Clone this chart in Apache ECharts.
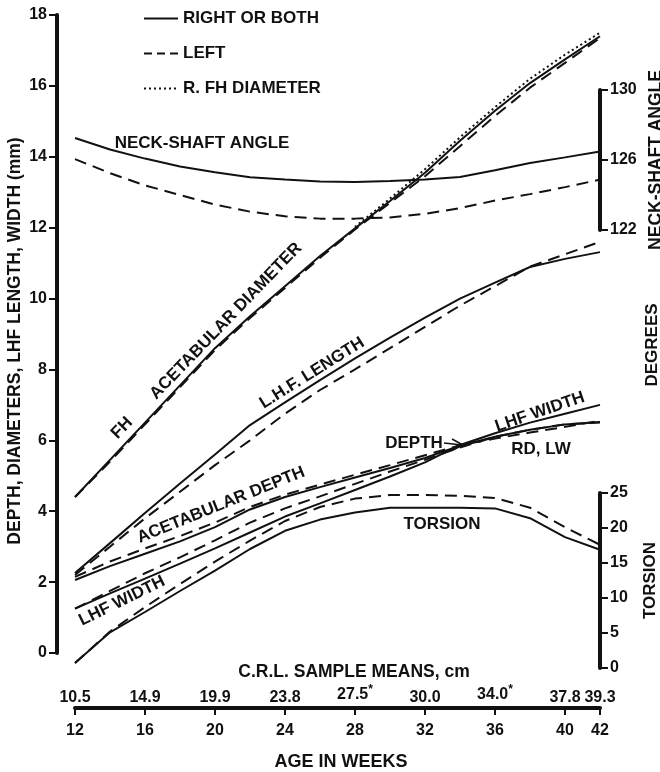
<!DOCTYPE html>
<html>
<head>
<meta charset="utf-8">
<script src="https://cdn.jsdelivr.net/npm/echarts@6/dist/echarts.min.js"></script>
<style>
  html, body { margin: 0; padding: 0; background: #fff; }
  #chart { width: 660px; height: 772px; }
</style>
</head>
<body>
<div id="chart"></div>
<script>
// Age in weeks at which every curve was read
var weeks = [12, 14, 16, 18, 20, 22, 24, 26, 28, 30, 32, 34, 36, 38, 40, 42];

// mm scale (left axis)
var fhAcetabRight = [4.4, 5.45, 6.5, 7.55, 8.6, 9.5, 10.35, 11.2, 11.98, 12.75, 13.55, 14.45, 15.3, 16.08, 16.75, 17.4];
var fhAcetabLeft = [4.4, 5.4, 6.45, 7.5, 8.55, 9.45, 10.3, 11.15, 11.95, 12.7, 13.45, 14.3, 15.15, 15.95, 16.65, 17.35];
var fhDiameterRight = [null, null, null, null, null, null, null, null, 12.02, 12.82, 13.65, 14.55, 15.4, 16.2, 16.88, 17.5];
var lhfLengthRight = [2.26, 3.1, 3.95, 4.78, 5.6, 6.43, 7.07, 7.7, 8.31, 8.9, 9.46, 10.0, 10.45, 10.89, 11.12, 11.31];
var lhfLengthLeft = [2.2, 3.0, 3.8, 4.55, 5.3, 6.0, 6.75, 7.42, 8.0, 8.6, 9.2, 9.8, 10.35, 10.9, 11.25, 11.6];
var acetabDepthRight = [2.06, 2.45, 2.8, 3.15, 3.55, 4.05, 4.4, 4.68, 4.95, 5.22, 5.5, 5.85, 6.1, 6.3, 6.45, 6.52];
var acetabDepthLeft = [2.15, 2.58, 2.95, 3.3, 3.68, 4.12, 4.47, 4.75, 5.03, 5.3, 5.58, 5.86, 6.05, 6.22, 6.38, 6.55];
var lhfWidthRight = [1.25, 1.68, 2.1, 2.52, 2.95, 3.4, 3.85, 4.22, 4.6, 4.98, 5.38, 5.87, 6.2, 6.5, 6.75, 7.0];
var lhfWidthLeft = [1.25, 1.75, 2.25, 2.7, 3.18, 3.68, 4.08, 4.42, 4.77, 5.12, 5.45, 5.8, 6.1, 6.3, 6.45, 6.5];

// degrees, neck-shaft angle scale
var neckRight = [127.26, 126.6, 126.08, 125.63, 125.3, 125.02, 124.88, 124.77, 124.74, 124.8, 124.88, 125.03, 125.42, 125.83, 126.15, 126.48];
var neckLeft = [126.05, 125.25, 124.55, 124.0, 123.45, 123.05, 122.78, 122.65, 122.65, 122.72, 122.92, 123.25, 123.68, 124.05, 124.45, 124.88];

// degrees, torsion scale
var torsionRight = [0.7, 5.1, 8.0, 11.0, 13.9, 17.0, 19.6, 21.2, 22.2, 22.9, 22.9, 22.9, 22.8, 21.4, 18.7, 16.9];
var torsionLeft = [0.7, 5.2, 8.7, 12.0, 15.2, 18.2, 21.0, 23.0, 24.2, 24.7, 24.7, 24.6, 24.3, 22.9, 20.1, 17.6];

// axis ticks
var weekTicks = [12, 16, 20, 24, 28, 32, 36, 40, 42];
var crlLabels = ['10.5', '14.9', '19.9', '23.8', '27.5*', '30.0', '34.0*', '37.8', '39.3'];

var INK = '#111';
var FONT = '"Liberation Sans", Arial, sans-serif';
var DASH = [12, 7];
var DOT = [2, 3];

function pairs(values) {
    return weeks.map(function (w, i) { return [w, values[i]]; });
}

function curve(name, values, grid, type) {
    return {
        type: 'line',
        name: name,
        xAxisIndex: grid,
        yAxisIndex: grid,
        data: pairs(values),
        symbol: 'none',
        showSymbol: false,
        clip: false,
        silent: true,
        lineStyle: { color: INK, width: 2, type: type },
        itemStyle: { color: INK }
    };
}

var SOLID_NAME = 'RIGHT OR BOTH';
var DASH_NAME = 'LEFT';
var DOT_NAME = 'R. FH DIAMETER';

function hiddenX(grid) {
    return { type: 'value', gridIndex: grid, min: 12, max: 42, show: false };
}

function sideAxis(grid, min, max, interval, name, size) {
    return {
        type: 'value', gridIndex: grid, min: min, max: max, interval: interval, position: 'right',
        name: name,
        nameLocation: 'middle', nameRotate: 90, nameGap: 42,
        nameTextStyle: { fontSize: size, fontWeight: 'bold', color: INK, fontFamily: FONT },
        axisLine: { show: true, onZero: false, lineStyle: { color: INK, width: 4 } },
        axisTick: { show: true, length: 8, lineStyle: { color: INK, width: 2 } },
        axisLabel: { margin: 10, color: INK, fontSize: 16, fontWeight: 'bold', fontFamily: FONT },
        splitLine: { show: false }
    };
}

function label(text, x, y, deg, size) {
    return {
        type: 'text',
        x: x,
        y: y,
        rotation: (deg || 0) * Math.PI / 180,
        silent: true,
        style: {
            text: text,
            fill: INK,
            font: 'bold ' + (size || 17) + 'px ' + FONT,
            textAlign: 'center',
            textVerticalAlign: 'middle'
        }
    };
}

function plotGrid(top, height) {
    return { left: 75, right: 60, top: top, height: height, containLabel: false, outerBoundsMode: 'none' };
}

var chart = echarts.init(document.getElementById('chart'));

chart.setOption({
    animation: false,
    backgroundColor: '#fff',
    textStyle: { fontFamily: FONT, color: INK },
    legend: {
        orient: 'vertical',
        left: 143,
        top: 10,
        padding: 0,
        itemWidth: 34,
        itemHeight: 14,
        itemGap: 18,
        selectedMode: false,
        itemStyle: { opacity: 0 },
        textStyle: { fontSize: 17, lineHeight: 14, fontWeight: 'bold', color: INK, fontFamily: FONT },
        data: [
            SOLID_NAME,
            { name: DASH_NAME, lineStyle: { type: [8, 5] } },
            { name: DOT_NAME, lineStyle: { type: DOT } }
        ]
    },
    grid: [plotGrid(15, 638), plotGrid(90, 140), plotGrid(493, 175)],
    xAxis: [
        {
            type: 'value', gridIndex: 0, min: 12, max: 42, position: 'bottom', offset: 55,
            axisLine: { show: true, onZero: false, lineStyle: { color: INK, width: 4 } },
            axisTick: { show: true, customValues: weekTicks, length: 7, lineStyle: { color: INK, width: 2 } },
            axisLabel: {
                customValues: weekTicks, margin: 15,
                color: INK, fontSize: 16, fontWeight: 'bold', fontFamily: FONT
            },
            splitLine: { show: false }
        },
        hiddenX(1),
        hiddenX(2),
        {
            type: 'value', gridIndex: 0, min: 12, max: 42, position: 'bottom', offset: 55,
            axisLine: { show: false, onZero: false },
            axisTick: { show: false },
            axisLabel: {
                inside: true, margin: 2,
                customValues: weekTicks,
                color: INK, fontSize: 16, fontWeight: 'bold', fontFamily: FONT,
                formatter: function (value) {
                    var text = crlLabels[weekTicks.indexOf(value)] || '';
                    if (text.indexOf('*') >= 0) {
                        return '{n|' + text.replace('*', '') + '}{s|*}';
                    }
                    return '{n|' + text + '}';
                },
                rich: {
                    n: { fontSize: 16, fontWeight: 'bold', fontFamily: FONT, color: INK },
                    s: { fontSize: 12, fontWeight: 'bold', fontFamily: FONT, color: INK, padding: [0, 0, 10, 0] }
                }
            },
            splitLine: { show: false }
        }
    ],
    yAxis: [
        {
            type: 'value', gridIndex: 0, min: 0, max: 18, interval: 2, position: 'left', offset: 18,
            name: 'DEPTH, DIAMETERS, LHF LENGTH, WIDTH (mm)',
            nameLocation: 'middle', nameRotate: 90, nameGap: 33, nameMoveOverlap: false,
            nameTextStyle: { fontSize: 17.5, fontWeight: 'bold', color: INK, fontFamily: FONT, padding: [0, 14, 0, 0] },
            axisLine: { show: true, onZero: false, lineStyle: { color: INK, width: 4 } },
            axisTick: { show: true, length: 8, lineStyle: { color: INK, width: 2 } },
            axisLabel: { margin: 10, color: INK, fontSize: 16, fontWeight: 'bold', fontFamily: FONT },
            splitLine: { show: false }
        },
        sideAxis(1, 122, 130, 4, 'NECK-SHAFT ANGLE', 17.5),
        sideAxis(2, 0, 25, 5, 'TORSION', 17)
    ],
    series: [
        curve(SOLID_NAME, fhAcetabRight, 0, 'solid'),
        curve(DASH_NAME, fhAcetabLeft, 0, DASH),
        curve(DOT_NAME, fhDiameterRight, 0, DOT),
        curve(SOLID_NAME, lhfLengthRight, 0, 'solid'),
        curve(DASH_NAME, lhfLengthLeft, 0, DASH),
        curve(SOLID_NAME, acetabDepthRight, 0, 'solid'),
        curve(DASH_NAME, acetabDepthLeft, 0, DASH),
        curve(SOLID_NAME, lhfWidthRight, 0, 'solid'),
        curve(DASH_NAME, lhfWidthLeft, 0, DASH),
        curve(SOLID_NAME, neckRight, 1, 'solid'),
        curve(DASH_NAME, neckLeft, 1, DASH),
        curve(SOLID_NAME, torsionRight, 2, 'solid'),
        curve(DASH_NAME, torsionLeft, 2, DASH)
    ],
    graphic: [
        label('NECK-SHAFT ANGLE', 202, 143, 0),
        label('FH', 122, 428, 46),
        label('ACETABULAR DIAMETER', 226, 321, 46),
        label('L.H.F. LENGTH', 312, 373, 32),
        label('ACETABULAR DEPTH', 221, 505, 22),
        label('LHF WIDTH', 122, 601, 26),
        label('LHF WIDTH', 540, 412, 19),
        label('DEPTH', 414, 443, 0),
        label('RD, LW', 541, 449, 0),
        label('TORSION', 442, 524, 0),
        label('DEGREES', 652, 345, 90),
        label('C.R.L. SAMPLE MEANS, cm', 354, 672, 0, 17.5),
        label('AGE IN WEEKS', 341, 762, 0, 18),
        {
            type: 'polyline', silent: true,
            shape: { points: [[444, 443], [462, 445]] },
            style: { stroke: INK, lineWidth: 1.5, fill: null }
        },
        {
            type: 'polyline', silent: true,
            shape: { points: [[452, 439], [463, 445], [453, 450]] },
            style: { stroke: INK, lineWidth: 1.5, fill: null }
        }
    ]
});
</script>
</body>
</html>
